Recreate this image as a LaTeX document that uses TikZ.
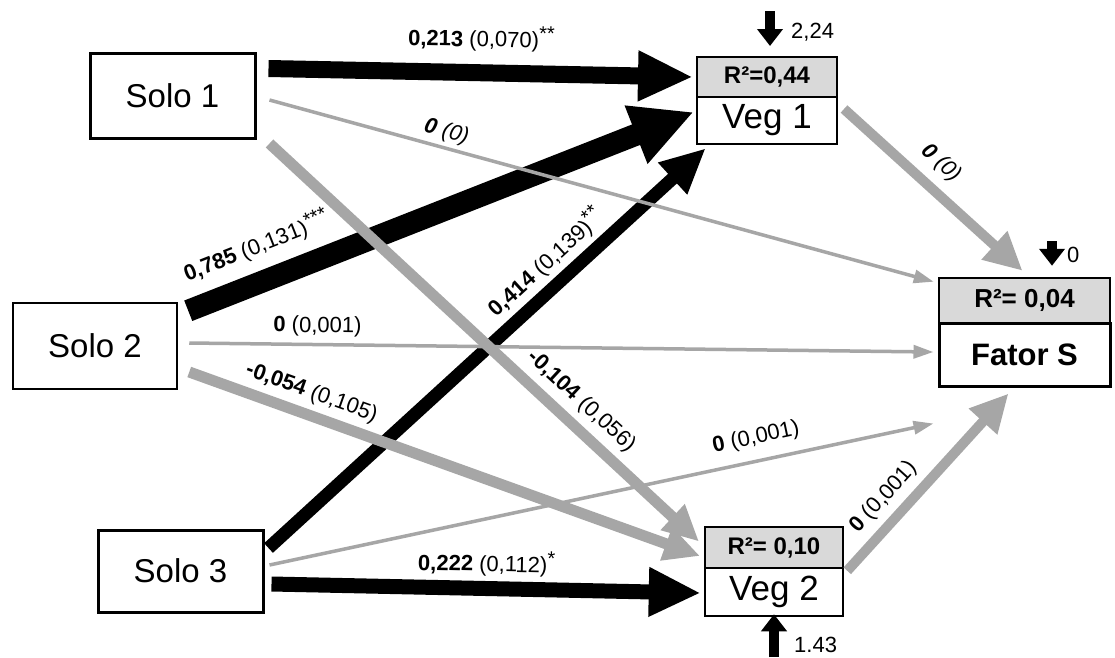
\documentclass[tikz,border=0pt]{standalone}
\usepackage{fontspec}
\setmainfont{Liberation Sans}
\usetikzlibrary{arrows.meta,calc}
\definecolor{arrgray}{RGB}{166,166,166}
\definecolor{hdrgray}{RGB}{217,217,217}
\newcommand{\stars}[1]{\raisebox{0.32em}{\fontsize{20}{22}\selectfont #1}}
\begin{document}
\begin{tikzpicture}[x=1pt,y=-1pt,
  solobox/.style={draw,line width=3pt,minimum width=165pt,minimum height=85pt,inner sep=0pt,font=\fontsize{33}{38}\selectfont},
  hdr/.style={draw,line width=2pt,fill=hdrgray,inner sep=0pt,font=\bfseries\fontsize{24}{28}\selectfont},
  bodybox/.style={draw,line width=2.5pt,inner sep=0pt,font=\fontsize{35}{40}\selectfont},
  lbl/.style={font=\fontsize{22}{26}\selectfont,inner sep=1pt},
  blk/.style={draw=black,line width=#1},
  gry/.style={draw=arrgray,line width=#1},
  err/.style={draw=black,line width=10pt,-{Triangle[length=17pt,width=25pt]}},
  gthick/.style={gry=11pt,-{Triangle[length=36pt,width=33pt]}},
  gthin/.style={gry=3.5pt,-{Triangle[length=20pt,width=13pt]}}
]
\useasboundingbox (0,0) rectangle (1115,657);
\fill[white] (0,0) rectangle (1115,657);

% boxes
\node[solobox] (s1) at (172.5,95.5) {Solo 1};
\node[solobox,line width=2.5pt,minimum width=164pt,minimum height=86pt] (s2) at (95,346) {Solo 2};
\node[solobox,minimum height=82pt] (s3) at (180.5,571) {Solo 3};

\node[hdr,minimum width=140pt,minimum height=40pt] (v1h) at (767,77) {R²=0,44};
\node[bodybox,minimum width=140pt,minimum height=47pt] (v1) at (767,120.5) {Veg 1};
\node[hdr,minimum width=138pt,minimum height=41pt] (v2h) at (774,547.5) {R²= 0,10};
\node[bodybox,minimum width=138pt,minimum height=48pt] (v2) at (774,592) {Veg 2};
\node[hdr,line width=2.5pt,minimum width=171pt,minimum height=45pt,font=\bfseries\fontsize{26}{30}\selectfont] (fh) at (1024.5,300.5) {R²= 0,04};
\node[bodybox,line width=3pt,minimum width=171pt,minimum height=63pt,font=\bfseries\fontsize{31}{36}\selectfont] (f) at (1024.5,354.5) {Fator S};

% black paths
\draw[blk=17pt,-{Triangle[length=55pt,width=47pt]}]
  ($(s1.north east)+(12,17)$) -- ($(v1h.west)+(-3,0)$)
  node[lbl,pos=0.5,sloped,above=12pt] (l1) {\textbf{0,213} (0,070)\stars{**}};
\draw[blk=22pt,-{Triangle[length=62pt,width=58pt]}]
  ($(s2.north east)+(10,9)$) -- ($(v1.west)+(-2,-8.5)$)
  node[lbl,pos=0.16,sloped,above=11pt] (l4) {\textbf{0,785} (0,131)\stars{***}};
\draw[blk=13pt,-{Triangle[length=45pt,width=40pt]}]
  ($(s3.east)+(4,-23)$) -- ($(v1.south west)+(10,3)$)
  node[lbl,pos=0.67,sloped,above=4pt] (l7) {\textbf{0,414} (0,139)\stars{**}};
\draw[blk=15pt,-{Triangle[length=52pt,width=46pt]}]
  ($(s3.east)+(7,13)$) -- ($(v2.west)+(-3,1)$)
  node[lbl,pos=0.5,sloped,above=4pt] (l9) {\textbf{0,222} (0,112)\stars{*}};

% gray thin paths
\draw[gthin] ($(s1.east)+(13,4.5)$) -- ($(fh.north west)+(-4,5)$)
  node[lbl,pos=0.26,sloped,above=3pt] (l2) {\textbf{\textit{0}} \textit{(0)}};
\draw[gthin] ($(s2.east)+(11,-3)$) -- ($(f.west)+(-4,-2.5)$)
  node[lbl,pos=0.172,sloped,above=5pt] (l5) {\textbf{0} (0,001)};
\draw[gthin] ($(s3.east)+(5,-6)$) -- ($(f.south west)+(-4,36)$)
  node[lbl,pos=0.74,sloped,above=10pt] (l8) {\textbf{0} (0,001)};

% gray thick paths
\draw[gthick] ($(s1.south east)+(13,4)$) -- ($(v2h.west)+(-5,-6)$)
  node[lbl,pos=0.69,sloped,above=6pt] (l3) {\textbf{-0,104} (0,056)};
\draw[gthick] ($(s2.east)+(11,26)$) -- ($(v2h.west)+(-4,8.5)$)
  node[lbl,pos=0.225,sloped,above=5pt] (l6) {\textbf{-0,054} (0,105)};
\draw[gry=10pt,-{Triangle[length=38pt,width=36pt]}]
  ($(v1h.south east)+(6,11)$) -- ($(fh.north)+(-2,-6)$)
  node[lbl,pos=0.45,sloped,above=9pt] (l10) {\textbf{\textit{0}} \textit{(0)}};
\draw[gry=10pt,-{Triangle[length=38pt,width=36pt]}]
  ($(v2.north east)+(3,4)$) -- ($(f.south)+(-16,6)$)
  node[lbl,pos=0.33,sloped,above=6pt] (l11) {\textbf{0} (0,001)};

% error terms
\coordinate (e1) at (770,11);
\draw[err] (e1) -- ($(v1h.north)+(3,-10)$);
\node[lbl,anchor=west] (t1) at (790,32) {2,24};
\coordinate (e2) at (1052,241);
\draw[err] (e2) -- ($(fh.north)+(27.5,-11)$);
\node[lbl,anchor=west] (t2) at (1066,255) {0};
\coordinate (e3) at (774,657);
\draw[err] (e3) -- ($(v2.south)+(0,-3)$);
\node[lbl,anchor=west] (t3) at (793,645) {1.43};
\end{tikzpicture}
\end{document}
